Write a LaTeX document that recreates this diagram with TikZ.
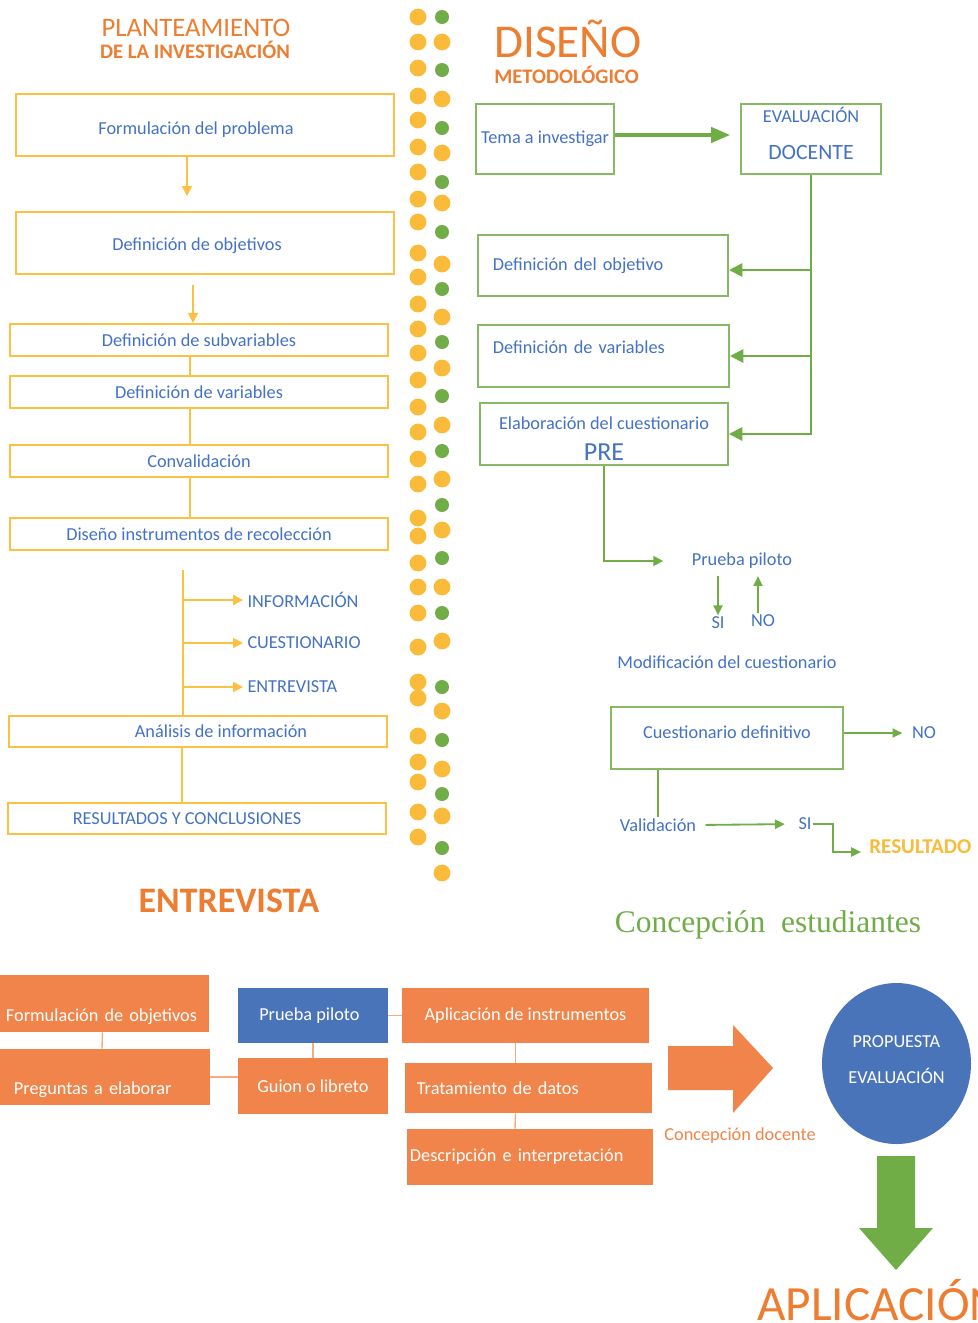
\documentclass[tikz,border=0pt]{standalone}
\usepackage{fontspec}
\setmainfont{Carlito}
\newfontfamily\timesfam{Liberation Serif}
\usetikzlibrary{arrows.meta,calc,shapes.geometric}
\definecolor{boxy}{RGB}{252,192,66}
\definecolor{doty}{RGB}{250,186,58}
\definecolor{greenc}{RGB}{112,173,71}
\definecolor{txtb}{RGB}{68,114,196}
\definecolor{orangec}{RGB}{237,125,49}
\definecolor{boxo}{RGB}{240,132,74}
\definecolor{lineo}{RGB}{247,172,124}
\definecolor{blueb}{RGB}{74,116,186}
\tikzset{
	boxsize/.style 2 args={
		minimum width=#1*0.025cm, minimum height=#2*0.025cm
	},
	%
	ybox/.style={
		rectangle, draw=boxy, line width=1.4pt, fill=white, text=txtb, inner sep=0pt
	},
	%
	gbox/.style={
		rectangle, draw=greenc!85, line width=1.4pt, fill=white, text=txtb, inner sep=0pt
	},
	%
	obox/.style={
		rectangle, fill=boxo, text=white, inner sep=0pt
	},
	%
	plain/.style={
		text=txtb, inner sep=1pt
	},
	%
	title/.style={
		text=orangec, inner sep=0pt, anchor=base
	},
	%
	yline/.style={draw=boxy, line width=1.2pt},
	yarrow/.style={yline, -{Triangle[length=7pt,width=7pt]}},
	gline/.style={draw=greenc, line width=1.4pt},
	garrow/.style={gline, -{Triangle[length=9.5pt,width=9.5pt]}},
	gthick/.style={draw=greenc, line width=2.2pt, -{Triangle[length=13.5pt,width=11pt]}},
	gsmall/.style={draw=greenc, line width=1.1pt, -{Triangle[length=7pt,width=6.5pt]}},
	oline/.style={draw=lineo, line width=1pt}
}

\begin{document}
\begin{tikzpicture}[x=0.025cm, y=-0.025cm, font=\fontsize{13}{15.6}\selectfont]
\path[use as bounding box, fill=white] (0,0) rectangle (978,1323);

% dotted separator
\foreach \dy in {17,42,68,96,120,147,172,199,222,253,277,304,329,353,380,407,432,459,484,518,536,563,587,613,647,682,698,736,762,782,812,837}
	\fill[doty] (418,\dy) circle (0.21cm);
\foreach \dy in {42,99,153,203,264,317,368,425,479,530,587,641,711,769,816,873}
	\fill[doty] (442,\dy) circle (0.21cm);
\foreach \dy in {17,70,128,182,232,289,342,396,451,505,558,613,687,740,794,848}
	\fill[greenc] (442,\dy) circle (0.175cm);

% planteamiento
\node(plant)[title, font=\fontsize{19}{20}\selectfont] at (196,36) {PLANTEAMIENTO};
\node(plantb)[title, font=\fontsize{14.7}{16}\selectfont\bfseries] at (195,58) {DE LA INVESTIGACIÓN};

\node(formul)[ybox, boxsize={378}{62}, text height=0.53cm] at (205,125) {Formulación del problema\hspace*{0.45cm}};
\node(objet)[ybox, boxsize={378}{62}, text height=0.43cm] at (205,243) {Definición de objetivos\hspace*{0.4cm}};
\node(subvar)[ybox, boxsize={378}{32}] at (199,340) {Definición de subvariables};
\node(variab)[ybox, boxsize={378}{32}] at (199,392) {Definición de variables};
\node(conval)[ybox, boxsize={378}{32}] at (199,461) {Convalidación};
\node(disen)[ybox, boxsize={378}{32}] at (199,534) {Diseño instrumentos de recolección};
\node(analis)[ybox, boxsize={378}{31}] at (198,731.5) {\hspace*{1.15cm}Análisis de información};
\node(result)[ybox, boxsize={378}{31}] at (197,818.5) {RESULTADOS Y CONCLUSIONES\hspace*{0.5cm}};

\draw[yarrow, shorten >=0.375cm] ($(formul.south)+(-18,0)$) -- ($(objet.north)+(-18,0)$);
\draw[yarrow, shorten <=0.25cm] ($(objet.south)+(-12,0)$) -- ($(subvar.north)+(-6,0)$);
\draw[yline] ($(subvar.south)+(-9,0)$) -- ($(variab.north)+(-9,0)$);
\draw[yline] ($(variab.south)+(-9,0)$) -- ($(conval.north)+(-9,0)$);
\draw[yline] ($(conval.south)+(-9,0)$) -- ($(disen.north)+(-9,0)$);

\coordinate (branch) at (183,570);
\node(info)[plain, anchor=west, inner sep=3pt] at (243,600) {INFORMACIÓN};
\node(cuest)[plain, anchor=west, inner sep=3pt] at (243,643) {CUESTIONARIO};
\node(entrev)[plain, anchor=west, inner sep=3pt] at (243,687) {ENTREVISTA};
\draw[yline] (branch) -- (branch |- analis.north);
\draw[yarrow] (branch |- info.west) -- (info.west);
\draw[yarrow] (branch |- cuest.west) -- (cuest.west);
\draw[yarrow] (branch |- entrev.west) -- (entrev.west);
\draw[yline] ($(analis.south)+(-16,0)$) -- ($(result.north)+(-15,0)$);

\node(entrtit)[title, font=\fontsize{25.5}{26}\selectfont\bfseries] at (229,912) {ENTREVISTA};

% diseño metodologico
\node(disetit)[title, anchor=base west, font=\fontsize{33.5}{34}\selectfont] at (494,57) {DISEÑO};
\node(metod)[title, anchor=base west, font=\fontsize{14.7}{16}\selectfont\bfseries] at (494,83) {METODOLÓGICO};

\node(tema)[gbox, boxsize={138}{70}] at (545,139) {Tema a investigar};
\node(evalua)[gbox, boxsize={140}{70}, align=center, text depth=0.28cm] at (811,139) {EVALUACIÓN\\[11pt]{\fontsize{15.5}{18}\selectfont DOCENTE}};
\draw[gthick, shorten >=0.25cm] ($(tema.east)+(0,-4)$) -- ($(evalua.west)+(0,-4)$);

\node(defobj)[gbox, boxsize={250}{61}, text width=5.5cm, inner xsep=0.375cm, align=left] at (603,265.5) {Definición del objetivo};
\node(defvar)[gbox, boxsize={251}{62}, text width=5.525cm, inner xsep=0.375cm, align=left, text depth=0.45cm] at (603.5,356) {Definición de variables};
\node(elab)[gbox, boxsize={248}{62}, align=center, text height=1.3cm] at (604,434) {Elaboración del cuestionario\\[6pt]{\fontsize{18.5}{19}\selectfont PRE}};

\coordinate (objin) at ($(defobj.east)+(0,4.5)$);
\draw[garrow] (evalua.south) |- (elab.east);
\draw[garrow] (evalua.south |- objin) -- (objin);
\draw[garrow] (evalua.south |- defvar.east) -- (defvar.east);

\node(prueba)[plain] at (742,561) {Prueba piloto};
\draw[gline, -{Triangle[length=7pt,width=7pt]}] (elab.south) |- ($(prueba.west)+(-27,0)$);
\node(si)[plain] at (718,623) {SI};
\node(no)[plain] at (763,621) {NO};
\draw[gsmall, shorten <=4pt] (prueba.south -| si) -- (si.north);
\draw[gsmall, shorten >=4pt] ($(no.north)+(-5,0)$) -- ($(prueba.south)+(16,0)$);
\node(modif)[plain] at (727,662) {Modificación del cuestionario};

\node(cdef)[gbox, boxsize={232}{62}, text depth=0.3cm] at (727,738) {Cuestionario definitivo};
\node(nob)[plain] at (924,733) {NO};
\draw[gsmall, line width=1.3pt, shorten >=0.2cm] (cdef.east |- nob) -- (nob.west);
\node(valid)[plain] at (658,825) {Validación};
\node(sib)[plain] at (805,824) {SI};
\draw[gline, line width=1.1pt] (cdef.south -| valid) -- (valid.north);
\draw[gsmall, line width=1.3pt, shorten <=0.2cm, shorten >=0.3cm] (valid.east) -- (sib.west);
\node(resul)[title, anchor=base west, text=doty, font=\fontsize{15}{16}\selectfont\bfseries] at (869,853) {RESULTADO};
\draw[gsmall, line width=1.3pt] (sib.east) -- ++(20,0) |- ($(resul.base west)+(-8,-1)$);

\node(concest)[anchor=base, text=greenc, inner sep=0pt, font=\timesfam\fontsize{22.4}{24}\selectfont] at (768,932) {Concepción\ \ estudiantes};

% entrevista
\node(fobj)[obox, boxsize={209}{57}, text width=4.925cm, inner xsep=0.15cm, align=left, text height=1cm] at (104.5,1003.5) {Formulación de objetivos};
\node(preg)[obox, boxsize={210}{56}, text width=4.55cm, inner xsep=0.35cm, align=left, text height=0.93cm] at (105,1077) {Preguntas a elaborar};
\node(ppil)[obox, fill=blueb, boxsize={150}{55}] at (313,1015.5) {Prueba piloto\hspace*{0.18cm}};
\node(guion)[obox, boxsize={150}{56}] at (313,1086) {Guion o libreto};
\node(aplic)[obox, boxsize={247}{55}] at (525.5,1015.5) {Aplicación de instrumentos};
\node(trat)[obox, boxsize={247}{50}, text width=5.575cm, inner xsep=0.3cm, align=left] at (528.5,1088) {Tratamiento de datos};
\node(desc)[obox, boxsize={246}{56}, text width=6cm, inner xsep=0.075cm, align=left] at (530,1157) {Descripción e interpretación};

\draw[oline] ($(fobj.south)+(-2,0)$) -- ($(preg.north)+(-3,0)$);
\draw[oline] (preg.east) -- (preg.east -| guion.west);
\draw[oline] (ppil.south) -- (guion.north);
\draw[oline] (ppil.east) -- (aplic.west);
\draw[oline] ($(aplic.south)+(-10,0)$) -- ($(trat.north)+(-13,0)$);
\draw[oline] ($(trat.south)+(-13,0)$) -- ($(desc.north)+(-15,0)$);

% propuesta
\fill[boxo] (668,1046) -- (733,1046) -- (733,1025) -- (773,1068) -- (733,1113) -- (733,1090) -- (668,1090) -- cycle;
\node(concdoc)[text=boxo, inner sep=0pt] at (740,1136) {Concepción docente};
\node(prop)[ellipse, fill=blueb, text=white, minimum width=149*0.025cm, minimum height=161*0.025cm, align=center, inner sep=0pt, text depth=0.2cm] at (896.5,1063.5) {PROPUESTA\\[10pt]EVALUACIÓN};
\fill[greenc] (877,1156) -- (915,1156) -- (915,1228) -- (933,1228) -- (896,1270) -- (859,1228) -- (877,1228) -- cycle;
\node(aplica)[title, anchor=base west, font=\fontsize{35}{36}\selectfont] at (757,1320) {APLICACIÓN};
\end{tikzpicture}
\end{document}
